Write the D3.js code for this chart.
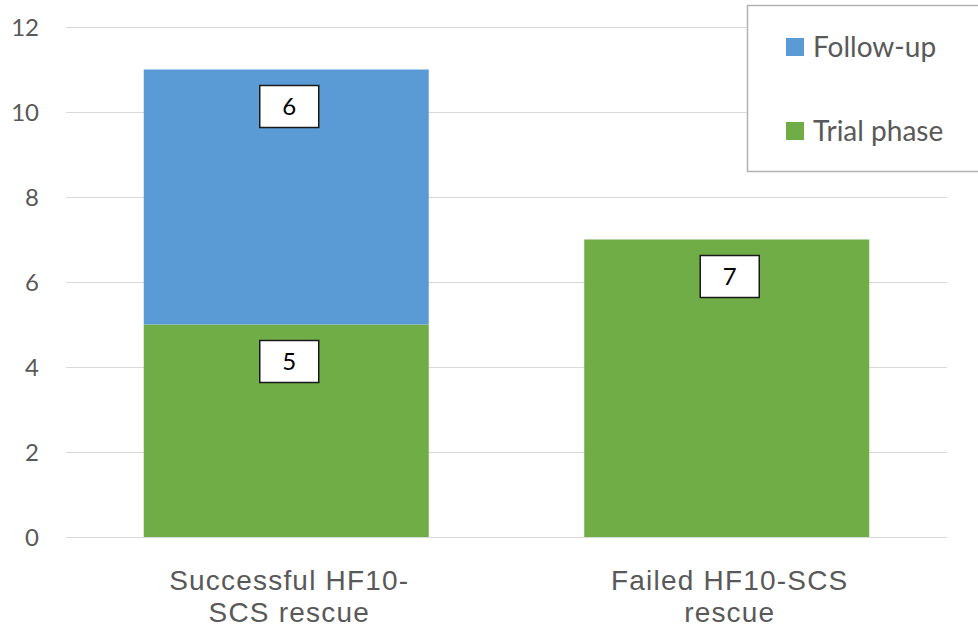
<!DOCTYPE html>
<html>
<head>
<meta charset="utf-8">
<script src="https://cdn.jsdelivr.net/npm/d3@7"></script>
<style>
  html, body { margin: 0; padding: 0; background: #fff; }
  svg { display: block; }
</style>
</head>
<body>
<svg id="chart" width="978" height="638"></svg>
<script>
// Rescue outcome groups (two-line category labels)
const categories = ["Successful HF10-SCS rescue", "Failed HF10-SCS rescue"];
const categoryLines = [["Successful HF10-", "SCS rescue"], ["Failed HF10-SCS", "rescue"]];
// Stacked series, bottom to top
const seriesNames = ["Trial phase", "Follow-up"];
const trialPhase = [5, 7];
const followUp = [6, 0];
const yTicks = [0, 2, 4, 6, 8, 10, 12];

const colors = { "Trial phase": "#70ad47", "Follow-up": "#5b9bd5" };
const tickFont = "Lato, 'Open Sans', sans-serif";
const catFont = "'Liberation Sans', Arial, sans-serif";
const textColor = "#595959";

const svg = d3.select("#chart");

const rows = categories.map((c, i) => ({ category: c, "Trial phase": trialPhase[i], "Follow-up": followUp[i] }));
const stacked = d3.stack().keys(seriesNames)(rows);

const x = d3.scaleBand().domain(categories).range([66, 947]).paddingInner(0.353).paddingOuter(0.1765);
const y = d3.scaleLinear().domain([0, 12]).range([537, 27]);

// Horizontal gridlines
svg.append("g").selectAll("line").data(yTicks).join("line")
  .attr("x1", 66).attr("x2", 947)
  .attr("y1", d => Math.round(y(d)) + 0.5).attr("y2", d => Math.round(y(d)) + 0.5)
  .attr("stroke", "#d9d9d9").attr("stroke-width", 1.2);

// Y tick labels
svg.append("g").selectAll("text").data(yTicks).join("text")
  .attr("x", 39).attr("y", d => y(d)).attr("dy", "0.36em")
  .attr("text-anchor", "end")
  .attr("font-family", tickFont).attr("font-size", 24).attr("fill", textColor)
  .text(d => d);

// Stacked bars
const layers = svg.append("g").selectAll("g").data(stacked).join("g")
  .attr("fill", d => colors[d.key]);
layers.selectAll("rect").data(d => d.filter(s => s[1] > s[0])).join("rect")
  .attr("x", d => x(d.data.category))
  .attr("width", x.bandwidth())
  .attr("y", d => y(d[1]))
  .attr("height", d => y(d[0]) - y(d[1]));

// Boxed value labels near the top of each segment
const labelData = [];
stacked.forEach(layer => layer.forEach(s => {
  const v = s[1] - s[0];
  if (v > 0) labelData.push({ cat: s.data.category, top: s[1], value: v });
}));
const lbl = svg.append("g").selectAll("g").data(labelData).join("g")
  .attr("transform", d => `translate(${x(d.cat) + x.bandwidth() / 2 + 3},${y(d.top) + 16})`);
lbl.append("rect")
  .attr("x", -29.5).attr("y", 0).attr("width", 59).attr("height", 42)
  .attr("fill", "#fff").attr("stroke", "#1a1a1a").attr("stroke-width", 1.5);
lbl.append("text")
  .attr("x", 0).attr("y", 21).attr("dy", "0.36em")
  .attr("text-anchor", "middle")
  .attr("font-family", tickFont).attr("font-size", 24).attr("fill", "#000")
  .text(d => d.value);

// Category labels
const cat = svg.append("g").selectAll("text").data(categories).join("text")
  .attr("text-anchor", "middle")
  .attr("font-family", catFont).attr("font-size", 28).attr("letter-spacing", "1.2px")
  .attr("fill", textColor);
cat.selectAll("tspan").data((d, i) => categoryLines[i].map(t => ({ t, c: d }))).join("tspan")
  .attr("x", d => x(d.c) + x.bandwidth() / 2 + 3)
  .attr("y", (d, i) => 590 + i * 32)
  .text(d => d.t);

// Legend
const legend = svg.append("g");
legend.append("rect")
  .attr("x", 747.5).attr("y", 5.5).attr("width", 250).attr("height", 166)
  .attr("fill", "#fff").attr("stroke", "#b3b3b3").attr("stroke-width", 1.5);
const legendOrder = ["Follow-up", "Trial phase"];
const li = legend.selectAll("g.item").data(legendOrder).join("g")
  .attr("class", "item")
  .attr("transform", (d, i) => `translate(786,${47 + i * 84})`);
li.append("rect").attr("x", 0).attr("y", -9).attr("width", 18).attr("height", 18)
  .attr("fill", d => colors[d]);
li.append("text").attr("x", 27).attr("y", 0).attr("dy", "0.36em")
  .attr("font-family", tickFont).attr("font-size", 28).attr("fill", textColor)
  .text(d => d);
</script>
</body>
</html>
